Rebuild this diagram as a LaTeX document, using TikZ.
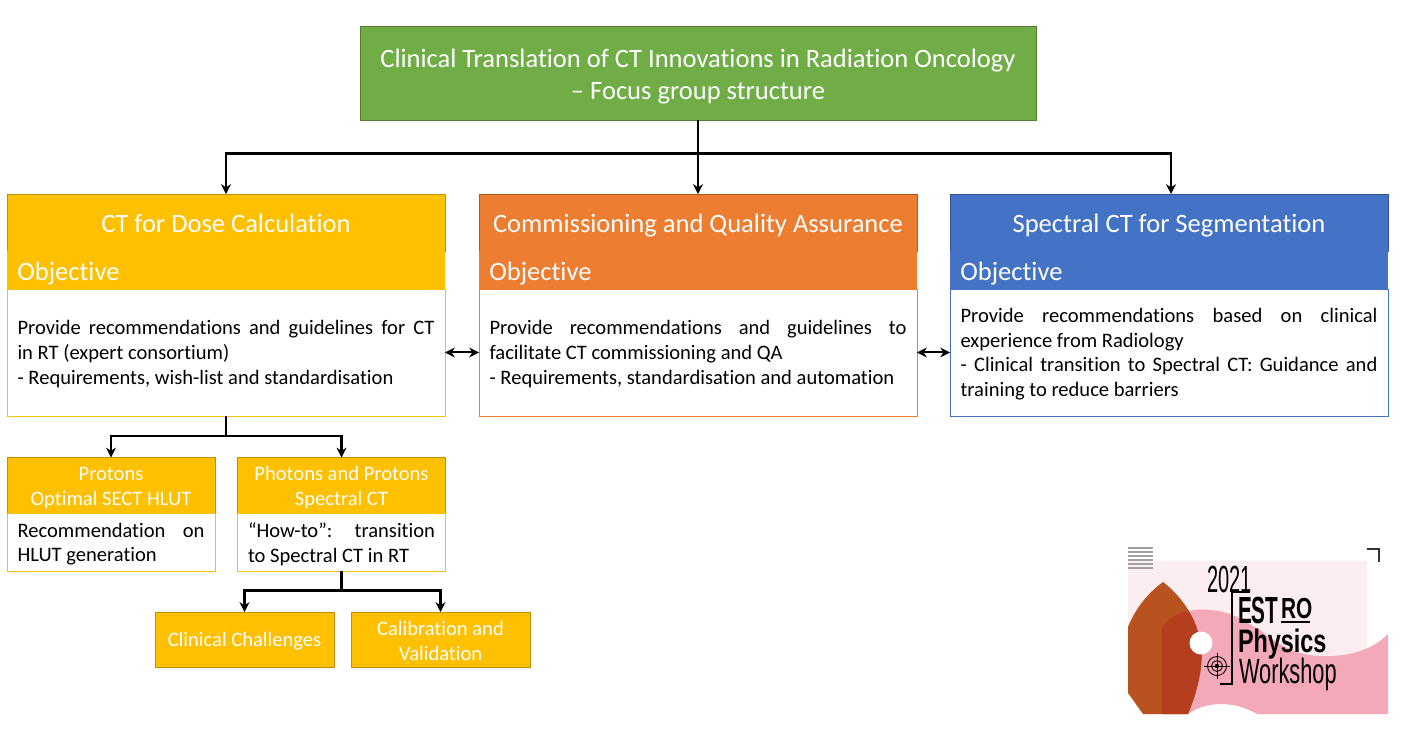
\documentclass[tikz,border=0pt]{standalone}
\usepackage{fontspec}
\usepackage{tikz}
\usetikzlibrary{positioning, arrows.meta}
\setmainfont[Ligatures=NoCommon]{Carlito}
\newfontfamily\logofont[FakeStretch=0.62]{Liberation Sans}
\newfontfamily\logoyearfont[FakeStretch=0.53]{Liberation Sans}
\newfontfamily\logoestfont[FakeStretch=0.55]{Liberation Sans}
\newfontfamily\logoboldfont[FakeStretch=0.72]{Liberation Sans}

\definecolor{goldfill}{HTML}{FFC000}
\definecolor{goldline}{HTML}{BF9000}
\definecolor{orangefill}{HTML}{ED7D31}
\definecolor{orangeline}{HTML}{AE5A21}
\definecolor{bluefill}{HTML}{4472C4}
\definecolor{blueline}{HTML}{2F528F}
\definecolor{greenfill}{HTML}{70AD47}
\definecolor{greenline}{HTML}{507E32}
\definecolor{logolight}{HTML}{FBEDF0}
\definecolor{logopink}{HTML}{F4A9B8}
\definecolor{logobrown}{HTML}{B8521F}
\definecolor{logored}{HTML}{B53E1E}
\definecolor{logogray}{HTML}{A0A0A0}

\begin{document}
\begin{tikzpicture}[x=0.02cm, y=-0.02cm, >={Stealth[length=5.6pt,width=5.6pt]},
    every node/.style={outer sep=0pt},
    textdown/.style={execute at begin node={\rule{0pt}{#1}}},
    titlefont/.style={font=\fontsize{15.1}{18.2}\selectfont},
    headfont/.style={font=\fontsize{15.1}{18.2}\selectfont},
    bodyfont/.style={font=\fontsize{11.7}{14.2}\selectfont},
    headbox/.style={draw=#1line, fill=#1fill, text=white, line width=0.5pt, minimum width=8.76cm, minimum height=1.14cm, text width=8.34cm, inner xsep=0.21cm, inner ysep=0pt, align=flush center, headfont, execute at begin node={\rule[-3.5pt]{0pt}{18.7pt}}},
    objbox/.style={fill=#1fill, text=white, minimum width=8.77cm, minimum height=0.76cm, text width=8.35cm, inner xsep=0.21cm, inner ysep=0pt, align=flush left, headfont, textdown=14pt},
    bodybox/.style={draw=#1fill, fill=white, line width=0.5pt, minimum width=8.76cm, minimum height=2.54cm, text width=8.34cm, inner xsep=0.21cm, align=justify, bodyfont, textdown=10pt},
    subhead/.style={draw=goldline, fill=goldfill, text=white, line width=0.5pt, minimum width=4.16cm, minimum height=1.12cm, text width=3.9cm, inner xsep=0.13cm, inner ysep=0pt, align=flush center, bodyfont, textdown=10pt},
    subbody/.style={draw=goldfill, fill=white, line width=0.5pt, minimum width=4.16cm, minimum height=1.16cm, text width=3.74cm, inner xsep=0.21cm, inner ysep=0pt, align=justify, bodyfont, textdown=10pt},
    leafbox/.style={draw=goldline, fill=goldfill, text=white, line width=0.5pt, minimum width=3.58cm, minimum height=1.10cm, text width=3.4cm, inner xsep=0.09cm, inner ysep=0pt, align=flush center, bodyfont, textdown=9.5pt},
    arrowline/.style={->, line width=1.15pt},
    logotext/.style={anchor=base west, inner sep=0pt, text=black}]
  \useasboundingbox (0,0) rectangle (1402,728);

  % logo
  \fill[logolight] (1128,561) rectangle (1367,662);
  \fill[logopink] (1162,714) -- (1162,627) .. controls (1172,612) and (1195,608) .. (1210,610) .. controls (1235,612) and (1245,622) .. (1260,630) .. controls (1285,650) and (1300,655) .. (1320,656) .. controls (1350,657) and (1372,650) .. (1388,634) -- (1388,714) -- (1257,714) .. controls (1240,704) and (1222,702) .. (1205,706) .. controls (1198,708) and (1192,711) .. (1188,714) -- cycle;
  \fill[logobrown] (1163,582) .. controls (1145,595) and (1134,612) .. (1128,627) -- (1128,693) -- (1143,714) -- (1188,714) .. controls (1198,690) and (1205,660) .. (1200,640) .. controls (1195,615) and (1180,595) .. (1163,582) -- cycle;
  \begin{scope}
    \clip (1163,582) .. controls (1145,595) and (1134,612) .. (1128,627) -- (1128,693) -- (1143,714) -- (1188,714) .. controls (1198,690) and (1205,660) .. (1200,640) .. controls (1195,615) and (1180,595) .. (1163,582) -- cycle;
    \fill[logored] (1162,714) -- (1162,627) .. controls (1172,612) and (1195,608) .. (1210,610) -- (1210,714) -- (1188,714) -- cycle;
  \end{scope}
  \fill[white] (1201,643) circle (11.5);
  \foreach \y in {548,552,556,560,564,568}
    \draw[logogray, line width=0.6pt] (1128,\y) -- (1153,\y);
  \draw[black!80, line width=0.6pt] (1367,549) -- (1379,549) -- (1379,562);
  \draw[black, line width=0.6pt] (1250,592) -- (1232,592) -- (1232,684) -- (1220,684);
  \draw[black, line width=0.5pt] (1217,666) circle (9.5) (1217,666) circle (5.5);
  \fill[black] (1217,666) circle (2.2);
  \draw[black, line width=0.5pt] (1204,666) -- (1230,666) (1217,653) -- (1217,679);
  \node[logotext, font=\logoyearfont\fontsize{21.5}{24}\selectfont] (logoyear) at (1207,592) {2021};
  \node[logotext, font=\logoestfont\bfseries\fontsize{21.5}{24}\selectfont] (logoest) at (1238,623) {EST};
  \node[logotext, font=\logoboldfont\bfseries\fontsize{16.5}{20}\selectfont] (logoro) at (1281,618) {RO};
  \draw[black, line width=0.8pt] (logoro.base west) ++(0,4) -- ++(29,0);
  \node[logotext, font=\logoboldfont\bfseries\fontsize{18.5}{22}\selectfont] (logophys) at (1238,652) {Physics};
  \node[logotext, font=\logofont\fontsize{20}{24}\selectfont] (logowork) at (1239,683) {Workshop};

  % top box
  \node[draw=greenline, fill=greenfill, text=white, line width=0.5pt, minimum width=13.52cm, minimum height=1.88cm, text width=13.2cm, inner xsep=0.16cm, inner ysep=0pt, align=flush center, titlefont, textdown=14pt] (main) at (698,73) {Clinical Translation of CT Innovations in Radiation Oncology\\– Focus group structure};

  % three columns
  \node[headbox=gold] (dosehead) at (226,222.5) {CT for Dose Calculation};
  \node[objbox=gold, below=0pt of dosehead] (doseobj) {Objective};
  \node[bodybox=gold, below=0pt of doseobj] (dosebody) {Provide recommendations and guidelines for CT\linebreak in RT (expert consortium)\\- Requirements, wish-list and standardisation};

  \node[headbox=orange] (commhead) at (698,222.5) {Commissioning and Quality Assurance};
  \node[objbox=orange, below=0pt of commhead] (commobj) {Objective};
  \node[bodybox=orange, below=0pt of commobj] (commbody) {Provide recommendations and guidelines to\linebreak facilitate CT commissioning and QA\\- Requirements, standardisation and automation};

  \node[headbox=blue] (spechead) at (1169,222.5) {Spectral CT for Segmentation};
  \node[objbox=blue, below=0pt of spechead] (specobj) {Objective};
  \node[bodybox=blue, below=0pt of specobj] (specbody) {Provide recommendations based on clinical\linebreak experience from Radiology\\- Clinical transition to Spectral CT: Guidance and\linebreak training to reduce barriers};

  % sub groups
  \node[subhead] (prothead) at (111,485.5) {Protons\\Optimal SECT HLUT};
  \node[subbody, below=0pt of prothead] (protbody) {Recommendation on\linebreak HLUT generation};
  \node[subhead] (phothead) at (341.5,485.5) {Photons and Protons\\Spectral CT};
  \node[subbody, below=0pt of phothead] (photbody) {“How-to”: transition\linebreak to Spectral CT in RT};
  \node[leafbox] (clinical) at (244.5,639.5) {Clinical Challenges};
  \node[leafbox] (calib) at (440.5,639.5) {Calibration and\\Validation};

  % connectors
  \draw[arrowline] (main.south) -- ++(0,33.5) -| (dosehead.north);
  \draw[arrowline] (main.south) -- (commhead.north);
  \draw[arrowline] (main.south) -- ++(0,33.5) -| ([xshift=0.04cm]spechead.north);
  \draw[arrowline] (dosebody.south) -- ++(0,20) -| (prothead.north);
  \draw[arrowline] (dosebody.south) -- ++(0,20) -| (phothead.north);
  \draw[arrowline] (photbody.south) -- ++(0,19) -| (clinical.north);
  \draw[arrowline] (photbody.south) -- ++(0,19) -| (calib.north);
  \draw[<->, line width=1.15pt] (dosebody.east) -- (commbody.west);
  \draw[<->, line width=1.15pt] (commbody.east) -- (specbody.west);
\end{tikzpicture}
\end{document}
